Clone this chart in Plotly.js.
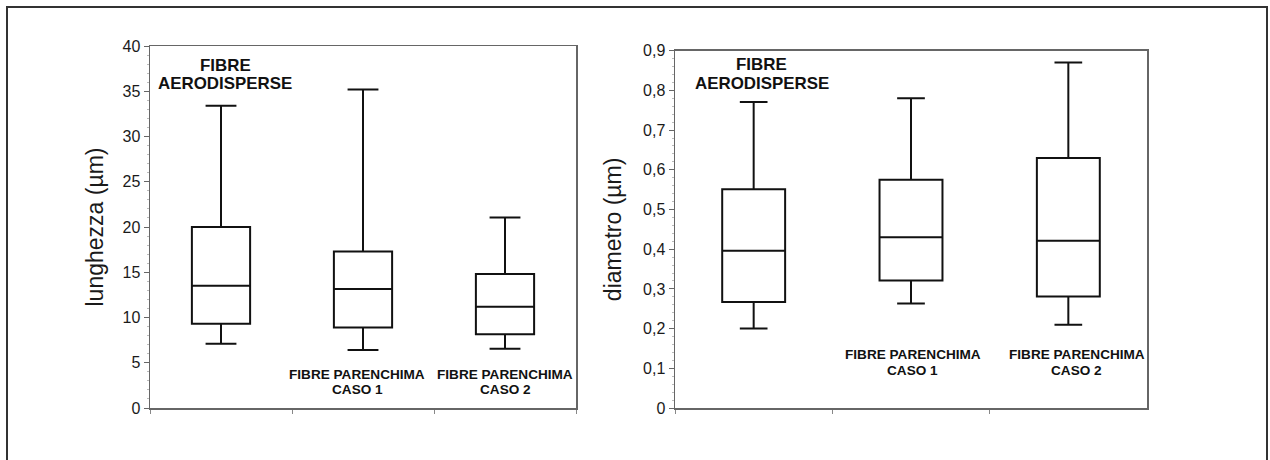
<!DOCTYPE html>
<html>
<head>
<meta charset="utf-8">
<script src="https://cdn.plot.ly/plotly-3.0.1.min.js"></script>
<style>html,body{margin:0;padding:0;background:#fff;}#chart{width:1270px;height:460px;}</style>
</head>
<body>
<div id="chart"></div>
<script>
// ---- data ----
const categories = ['FIBRE AERODISPERSE', 'FIBRE PARENCHIMA CASO 1', 'FIBRE PARENCHIMA CASO 2'];

// lunghezza (µm)
const lenLower  = [7.1, 6.4, 6.55];
const lenQ1     = [9.3, 8.9, 8.15];
const lenMedian = [13.5, 13.15, 11.2];
const lenQ3     = [20.0, 17.3, 14.8];
const lenUpper  = [33.4, 35.2, 21.05];

// diametro (µm)
const diaLower  = [0.200, 0.263, 0.210];
const diaQ1     = [0.267, 0.321, 0.281];
const diaMedian = [0.396, 0.430, 0.421];
const diaQ3     = [0.551, 0.575, 0.630];
const diaUpper  = [0.771, 0.780, 0.870];

const yTitleLeft = 'lunghezza (µm)';
const yTitleRight = 'diametro (µm)';
const labelTop = ['FIBRE', 'AERODISPERSE'];
const labelCase1 = ['FIBRE PARENCHIMA', 'CASO 1'];
const labelCase2 = ['FIBRE PARENCHIMA', 'CASO 2'];

// ---- styling ----
const FONT = 'Liberation Sans, Arial, Helvetica, sans-serif';
const boxStyle = {
  type: 'box',
  boxpoints: false,
  fillcolor: 'rgba(0,0,0,0)',
  line: {color: '#111', width: 2},
  width: 0.41,
  hoverinfo: 'y',
  showlegend: false
};

const traces = [
  Object.assign({}, boxStyle, {
    x: categories, q1: lenQ1, median: lenMedian, q3: lenQ3,
    lowerfence: lenLower, upperfence: lenUpper,
    whiskerwidth: 0.53, xaxis: 'x', yaxis: 'y'
  }),
  Object.assign({}, boxStyle, {
    x: categories, q1: diaQ1, median: diaMedian, q3: diaQ3,
    lowerfence: diaLower, upperfence: diaUpper,
    width: 0.40, whiskerwidth: 0.44, xaxis: 'x2', yaxis: 'y2'
  })
];

// plot area in pixels: left 150, right 1147, top 46, bottom 408
const L = 150, R = 1147, T = 46, B = 408, W = 1270, H = 460;
const PW = R - L, PH = B - T;
const px = v => (v - L) / PW;
const py = v => (B - v) / PH;

const xBase = {
  type: 'category',
  showline: true, mirror: true, linecolor: '#666', linewidth: 1.5,
  showgrid: false, zeroline: false,
  showticklabels: false,
  ticks: 'outside', tickson: 'boundaries', ticklen: 4, tickcolor: '#888', tickwidth: 1,
  fixedrange: true
};
const yBase = {
  showline: true, mirror: true, linecolor: '#666', linewidth: 1.5,
  showgrid: false, zeroline: false,
  ticks: 'outside', ticklen: 5, tickcolor: '#666', tickwidth: 1,
  tickfont: {family: FONT, size: 16, color: '#1a1a1a'},
  fixedrange: true
};

const layout = {
  width: W, height: H,
  margin: {l: L, r: W - R, t: T, b: H - B, pad: 0},
  paper_bgcolor: '#fff', plot_bgcolor: '#fff',
  separators: ', ',
  showlegend: false,
  boxmode: 'overlay',
  xaxis: Object.assign({}, xBase, {domain: [0, px(576)], anchor: 'y', range: [-0.5, 2.5]}),
  xaxis2: Object.assign({}, xBase, {domain: [px(675), 1], anchor: 'y2', range: [-0.5, 2.5]}),
  yaxis: Object.assign({}, yBase, {
    domain: [0, 1], anchor: 'x', range: [0, 40], dtick: 5, tick0: 0,
    minor: {ticks: 'outside', ticklen: 2, tickcolor: '#bbb', dtick: 1},
    title: {text: yTitleLeft, font: {family: FONT, size: 23, color: '#1a1a1a'}, standoff: 12}
  }),
  yaxis2: Object.assign({}, yBase, {
    domain: [0, py(50.7)], anchor: 'x2', range: [0, 0.9], dtick: 0.1, tick0: 0,
    minor: {ticks: 'outside', ticklen: 2, tickcolor: '#bbb', dtick: 0.02},
    title: {text: yTitleRight, font: {family: FONT, size: 23, color: '#1a1a1a'}, standoff: 15}
  }),
  annotations: [],
  shapes: [{
    type: 'path', xref: 'paper', yref: 'paper',
    path: 'M ' + px(7) + ',' + py(480) + ' L ' + px(7) + ',' + py(7) +
          ' L ' + px(1267) + ',' + py(7) + ' L ' + px(1267) + ',' + py(480),
    line: {color: '#333', width: 2}
  }]
};

function addLabel(xref, yref, x, y, text, size) {
  layout.annotations.push({
    xref: xref, yref: yref, x: x, y: y, text: text, showarrow: false,
    xanchor: 'center', yanchor: 'middle',
    font: {family: FONT, size: size, color: '#111', weight: 'bold'}
  });
}
// left subplot labels
addLabel('x', 'y', 0.03, 37.9, labelTop[0], 16.9);
addLabel('x', 'y', 0.03, 35.9, labelTop[1], 16.9);
addLabel('x', 'y', 0.96, 3.65, labelCase1[0], 13.6);
addLabel('x', 'y', 0.96, 2.0, labelCase1[1], 13.6);
addLabel('x', 'y', 2.0, 3.65, labelCase2[0], 13.6);
addLabel('x', 'y', 2.0, 2.0, labelCase2[1], 13.6);
// right subplot labels
addLabel('x2', 'y2', 0.05, 0.864, labelTop[0], 16.9);
addLabel('x2', 'y2', 0.05, 0.818, labelTop[1], 16.9);
addLabel('x2', 'y2', 1.01, 0.135, labelCase1[0], 13.6);
addLabel('x2', 'y2', 1.01, 0.095, labelCase1[1], 13.6);
addLabel('x2', 'y2', 2.054, 0.135, labelCase2[0], 13.6);
addLabel('x2', 'y2', 2.054, 0.095, labelCase2[1], 13.6);

Plotly.newPlot('chart', traces, layout, {displayModeBar: false, staticPlot: true});
</script>
</body>
</html>
